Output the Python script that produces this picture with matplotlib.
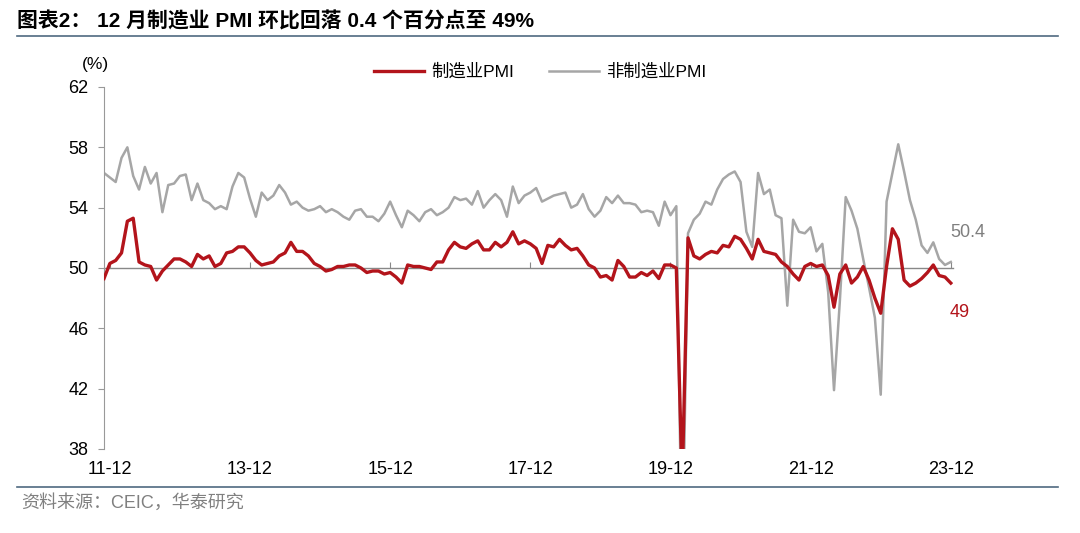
import matplotlib
matplotlib.use('Agg')
import matplotlib.pyplot as plt
import pandas as pd

plt.rcParams['font.family'] = ['Liberation Sans', 'Noto Sans CJK SC', 'DejaVu Sans']

# месячные данные, 2011-11 .. 2023-12
months = pd.date_range('2011-11-01', '2023-12-01', freq='MS')

mfg_pmi = [
    49.3, 50.3,
    50.5, 51.0, 53.1, 53.3, 50.4, 50.2, 50.1, 49.2, 49.8, 50.2, 50.6, 50.6,
    50.4, 50.1, 50.9, 50.6, 50.8, 50.1, 50.3, 51.0, 51.1, 51.4, 51.4, 51.0,
    50.5, 50.2, 50.3, 50.4, 50.8, 51.0, 51.7, 51.1, 51.1, 50.8, 50.3, 50.1,
    49.8, 49.9, 50.1, 50.1, 50.2, 50.2, 50.0, 49.7, 49.8, 49.8, 49.6, 49.7,
    49.4, 49.0, 50.2, 50.1, 50.1, 50.0, 49.9, 50.4, 50.4, 51.2, 51.7, 51.4,
    51.3, 51.6, 51.8, 51.2, 51.2, 51.7, 51.4, 51.7, 52.4, 51.6, 51.8, 51.6,
    51.3, 50.3, 51.5, 51.4, 51.9, 51.5, 51.2, 51.3, 50.8, 50.2, 50.0, 49.4,
    49.5, 49.2, 50.5, 50.1, 49.4, 49.4, 49.7, 49.5, 49.8, 49.3, 50.2, 50.2,
    50.0, 35.7, 52.0, 50.8, 50.6, 50.9, 51.1, 51.0, 51.5, 51.4, 52.1, 51.9,
    51.3, 50.6, 51.9, 51.1, 51.0, 50.9, 50.4, 50.1, 49.6, 49.2, 50.1, 50.3,
    50.1, 50.2, 49.5, 47.4, 49.6, 50.2, 49.0, 49.4, 50.1, 49.2, 48.0, 47.0,
    50.1, 52.6, 51.9, 49.2, 48.8, 49.0, 49.3, 49.7, 50.2, 49.5, 49.4, 49.0,
]

non_mfg_pmi = [
    56.3, 56.0,
    55.7, 57.3, 58.0, 56.1, 55.2, 56.7, 55.6, 56.3, 53.7, 55.5, 55.6, 56.1,
    56.2, 54.5, 55.6, 54.5, 54.3, 53.9, 54.1, 53.9, 55.4, 56.3, 56.0, 54.6,
    53.4, 55.0, 54.5, 54.8, 55.5, 55.0, 54.2, 54.4, 54.0, 53.8, 53.9, 54.1,
    53.7, 53.9, 53.7, 53.4, 53.2, 53.8, 53.9, 53.4, 53.4, 53.1, 53.6, 54.4,
    53.5, 52.7, 53.8, 53.5, 53.1, 53.7, 53.9, 53.5, 53.7, 54.0, 54.7, 54.5,
    54.6, 54.2, 55.1, 54.0, 54.5, 54.9, 54.5, 53.4, 55.4, 54.3, 54.8, 55.0,
    55.3, 54.4, 54.6, 54.8, 54.9, 55.0, 54.0, 54.2, 54.9, 53.9, 53.4, 53.8,
    54.7, 54.3, 54.8, 54.3, 54.3, 54.2, 53.7, 53.8, 53.7, 52.8, 54.4, 53.5,
    54.1, 29.6, 52.3, 53.2, 53.6, 54.4, 54.2, 55.2, 55.9, 56.2, 56.4, 55.7,
    52.4, 51.4, 56.3, 54.9, 55.2, 53.5, 53.3, 47.5, 53.2, 52.4, 52.3, 52.7,
    51.1, 51.6, 48.4, 41.9, 47.8, 54.7, 53.8, 52.6, 50.6, 48.7, 46.7, 41.6,
    54.4, 56.3, 58.2, 56.4, 54.5, 53.2, 51.5, 51.0, 51.7, 50.6, 50.2, 50.4,
]

tick_idx = list(range(1, len(months), 24))
tick_labels = [months[i].strftime('%y-%m') for i in tick_idx]

RED = '#B3141B'
GREY = '#A6A6A6'

fig = plt.figure(figsize=(10.8, 5.33), dpi=100)
ax = fig.add_axes([0.0963, 0.1576, 0.7857, 0.6792])

x = range(len(months))
ax.plot(x, non_mfg_pmi, color=GREY, lw=1.8, label='非制造业PMI', zorder=2)
ax.plot(x, mfg_pmi, color=RED, lw=2.4, label='制造业PMI', zorder=3)

ax.set_xlim(0, len(months) - 0.7)
ax.set_ylim(38, 62)
ax.set_yticks([38, 42, 46, 50, 54, 58, 62])
ax.tick_params(axis='y', labelsize=13, length=4, color='#999999', pad=7)
ax.set_xticks(tick_idx)
ax.set_xticklabels(tick_labels)
ax.tick_params(axis='x', labelsize=13, length=0, pad=9)
for s in ['top', 'right', 'bottom']:
    ax.spines[s].set_visible(False)
ax.spines['left'].set_color('#999999')

# ось на уровне 50
sec = ax.secondary_xaxis(0.5)
sec.set_xticks(tick_idx)
sec.set_xticklabels([])
sec.tick_params(length=4, color='#888888', direction='out')
for sp in sec.spines.values():
    sp.set_color('#888888')
    sp.set_linewidth(1.0)

ax.text(-0.01, 1.05, '(%)', transform=ax.transAxes, fontsize=12.5, ha='center')
ax.annotate('50.4', (len(months) - 1, non_mfg_pmi[-1]), xytext=(0, 21),
            textcoords='offset points', color='#7F7F7F', fontsize=13, va='center')
ax.annotate('49', (len(months) - 1, mfg_pmi[-1]), xytext=(-1, -21),
            textcoords='offset points', color=RED, fontsize=13, va='center')

h, l = ax.get_legend_handles_labels()
fig.legend(h[::-1], l[::-1], loc='center', bbox_to_anchor=(0.5, 0.866), ncol=2,
           frameon=False, fontsize=12.5, handlelength=2.9, columnspacing=2.0,
           handletextpad=0.4)

fig.text(0.016, 0.96, '图表2： 12 月制造业 PMI 环比回落 0.4 个百分点至 49%',
         fontsize=15, fontweight='bold', va='center', ha='left')
fig.add_artist(plt.Line2D([0.016, 0.98], [0.932, 0.932], color='#4F6A80', lw=1.2))
fig.add_artist(plt.Line2D([0.016, 0.98], [0.086, 0.086], color='#4F6A80', lw=1.2))
fig.text(0.02, 0.056, '资料来源：CEIC，华泰研究', fontsize=13, color='#808080',
         va='center', ha='left')

fig.savefig('out.png', dpi=100)
